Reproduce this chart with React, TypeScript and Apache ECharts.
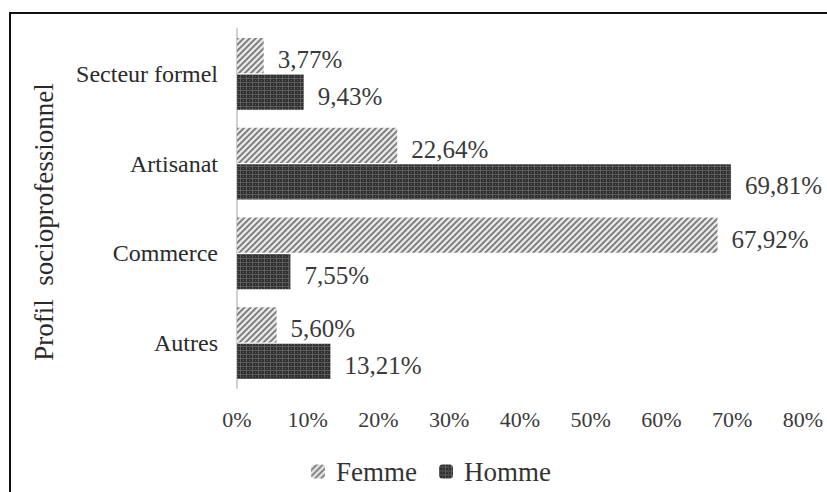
import React, { useEffect, useRef } from "react";
import * as echarts from "echarts";

const categories = ["Secteur formel", "Artisanat", "Commerce", "Autres"];
const femme = [3.77, 22.64, 67.92, 5.6];
const homme = [9.43, 69.81, 7.55, 13.21];
const seriesNames = ["Femme", "Homme"];
const axisTitle = "Profil  socioprofessionnel";

const FONT = "Liberation Serif";

function hatchPattern() {
  const s = 6;
  const c = document.createElement("canvas");
  c.width = s;
  c.height = s;
  const ctx = c.getContext("2d")!;
  ctx.fillStyle = "#e6e6e6";
  ctx.fillRect(0, 0, s, s);
  ctx.strokeStyle = "#7a7a7a";
  ctx.lineWidth = 1.8;
  ctx.beginPath();
  ctx.moveTo(0, s);
  ctx.lineTo(s, 0);
  ctx.moveTo(-1, 1);
  ctx.lineTo(1, -1);
  ctx.moveTo(s - 1, s + 1);
  ctx.lineTo(s + 1, s - 1);
  ctx.stroke();
  return { image: c, repeat: "repeat", imageWidth: s, imageHeight: s } as any;
}

function gridPattern() {
  const w = 6;
  const h = 4;
  const c = document.createElement("canvas");
  c.width = w;
  c.height = h;
  const ctx = c.getContext("2d")!;
  ctx.fillStyle = "#303030";
  ctx.fillRect(0, 0, w, h);
  ctx.fillStyle = "#5e5e5e";
  ctx.fillRect(0, 0, 1, h);
  ctx.fillRect(3, 0, 1, 1);
  ctx.fillRect(0, 2, w, 1);
  return { image: c, repeat: "repeat", imageWidth: w, imageHeight: h } as any;
}

export default function App() {
  const ref = useRef<HTMLDivElement>(null);
  useEffect(() => {
    if (!ref.current) return;
    const chart = echarts.init(ref.current, undefined, { renderer: "svg" });
    const fPat = hatchPattern();
    const hPat = gridPattern();
    const labelStyle = {
      show: true,
      position: "right" as const,
      distance: 14,
      offset: [0, 4],
      formatter: (p: any) => p.value.toFixed(2).replace(".", ",") + "%",
      fontFamily: FONT,
      fontSize: 25,
      color: "#3a3a3a",
    };
    chart.setOption({
      animation: false,
      backgroundColor: "#ffffff",
      textStyle: { fontFamily: FONT },
      grid: { left: 237, right: 24, top: 29, bottom: 104, containLabel: false },
      legend: {
        data: seriesNames,
        top: 453,
        left: 306,
        itemWidth: 14,
        itemHeight: 14,
        itemGap: 22,
        textStyle: { fontFamily: FONT, fontSize: 27, color: "#333", padding: [0, 0, 0, 6] },
      },
      xAxis: {
        type: "value",
        min: 0,
        max: 80,
        interval: 10,
        axisLine: { show: false },
        axisTick: { show: false },
        splitLine: { show: false },
        axisLabel: {
          formatter: "{value}%",
          fontFamily: FONT,
          fontSize: 22,
          color: "#3a3a3a",
          margin: 20,
        },
      },
      yAxis: {
        type: "category",
        data: categories,
        inverse: true,
        axisLine: { show: true, lineStyle: { color: "#d0d0d0", width: 2 } },
        axisTick: { show: false },
        axisLabel: {
          fontFamily: FONT,
          fontSize: 24,
          color: "#2a2a2a",
          margin: 19,
        },
      },
      series: [
        {
          name: seriesNames[0],
          type: "bar",
          data: femme,
          barGap: "3%",
          barCategoryGap: "20%",
          itemStyle: { color: fPat },
          label: labelStyle,
        },
        {
          name: seriesNames[1],
          type: "bar",
          data: homme,
          itemStyle: { color: hPat },
          label: labelStyle,
        },
      ],
      graphic: [
        {
          type: "rect",
          shape: { x: 10, y: 13, width: 830, height: 500 },
          style: { fill: "none", stroke: "#111", lineWidth: 2 },
          silent: true,
        },
        {
          type: "text",
          x: 44,
          y: 222,
          rotation: Math.PI / 2,
          style: {
            text: axisTitle,
            fontFamily: FONT,
            fontSize: 27,
            fill: "#2a2a2a",
            textAlign: "center",
            textVerticalAlign: "middle",
          },
        },
      ],
    });
    return () => chart.dispose();
  }, []);
  return (
    <div
      ref={ref}
      style={{ position: "absolute", left: 0, top: 0, width: 827, height: 492 }}
    />
  );
}
